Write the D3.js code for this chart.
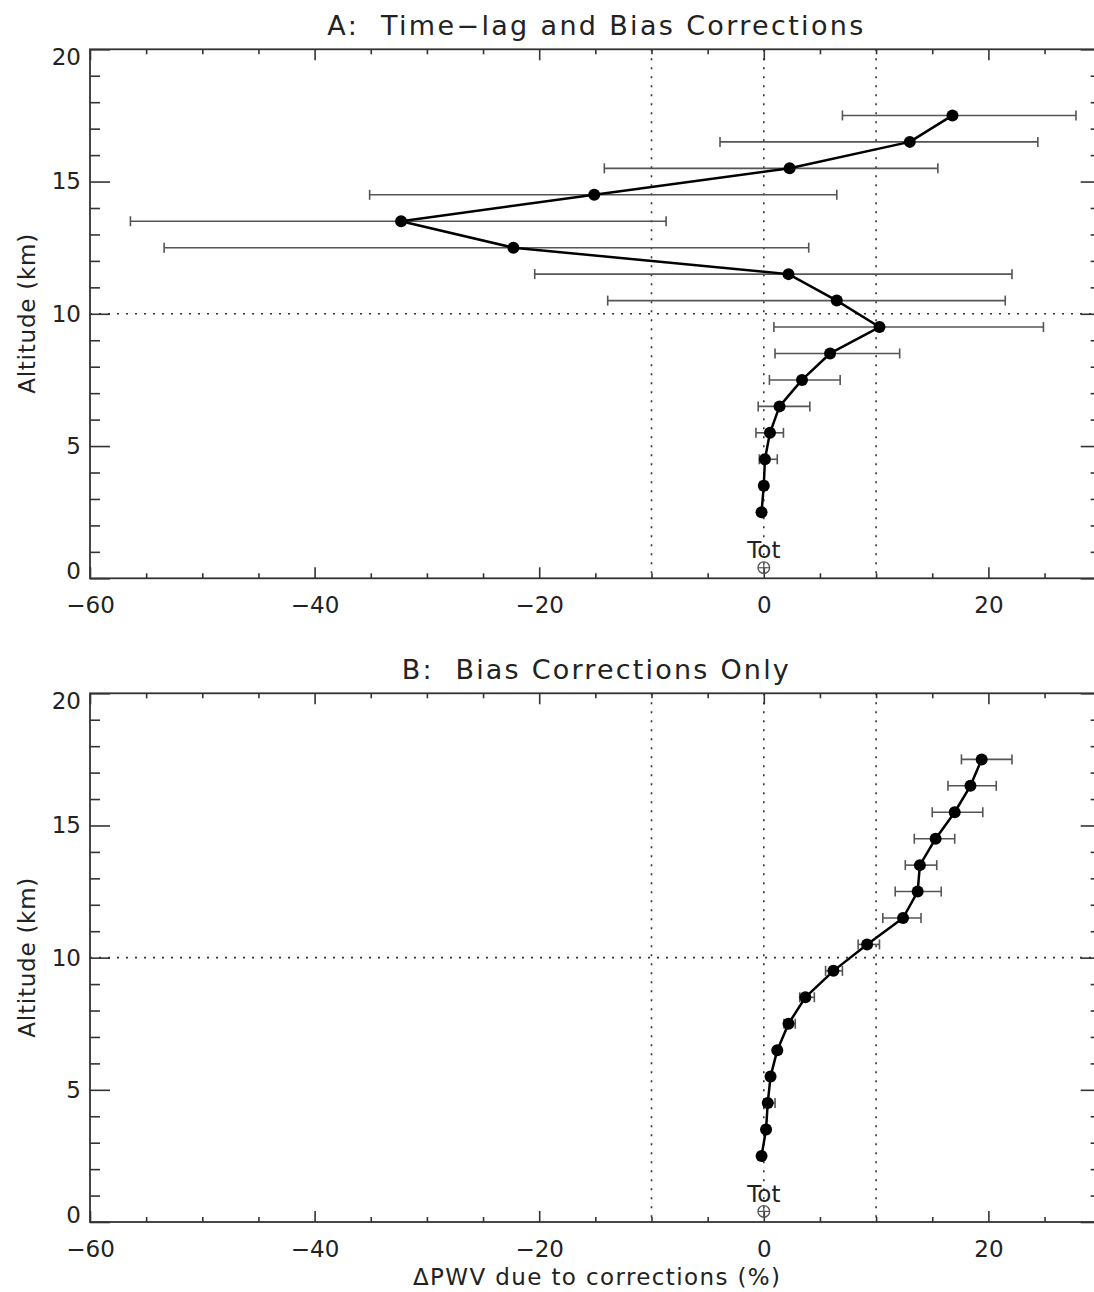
<!DOCTYPE html>
<html>
<head>
<meta charset="utf-8">
<script src="https://cdn.jsdelivr.net/npm/d3@7"></script>
<style>
  body { margin: 0; background: #fff; }
  svg { display: block; }
  text { font-family: "DejaVu Sans", sans-serif; fill: #222; white-space: pre; }
</style>
</head>
<body>
<svg id="chart" width="1094" height="1292"></svg>
<script>
// ---- data ----
const altitudes = [17.5, 16.5, 15.5, 14.5, 13.5, 12.5, 11.5, 10.5, 9.5, 8.5, 7.5, 6.5, 5.5, 4.5, 3.5, 2.5];

const valuesA = [16.8, 13.0, 2.3, -15.1, -32.3, -22.3, 2.2, 6.5, 10.3, 5.9, 3.4, 1.4, 0.55, 0.1, 0.0, -0.2];
const lowerA  = [7.0, -3.9, -14.2, -35.1, -56.4, -53.4, -20.4, -13.9, 0.9, 1.0, 0.5, -0.5, -0.7, -0.4, -0.3, -0.3];
const upperA  = [27.8, 24.4, 15.5, 6.5, -8.7, 4.0, 22.1, 21.5, 24.9, 12.1, 6.8, 4.1, 1.75, 1.2, 0.3, -0.1];

const valuesB = [19.4, 18.4, 17.0, 15.3, 13.9, 13.7, 12.4, 9.2, 6.2, 3.7, 2.2, 1.2, 0.6, 0.35, 0.2, -0.2];
const lowerB  = [17.6, 16.4, 15.0, 13.4, 12.6, 11.7, 10.6, 8.4, 5.5, 3.2, 1.8, 1.0, 0.35, 0.0, 0.0, -0.3];
const upperB  = [22.1, 20.7, 19.5, 17.0, 15.4, 15.8, 14.0, 10.3, 7.0, 4.5, 2.8, 1.5, 0.85, 1.0, 0.45, -0.1];

const totValue = 0.0;
const totAltitude = 0.4;
const totLabel = "Tot";

const xDomain = [-60, 30];
const yDomain = [0, 20];
const xMajorTicks = [-60, -40, -20, 0, 20];
const xMinorTicks = [-55, -50, -45, -35, -30, -25, -15, -10, -5, 5, 10, 15, 25, 30];
const yMajorTicks = [0, 5, 10, 15, 20];
const yMinorTicks = [1, 2, 3, 4, 6, 7, 8, 9, 11, 12, 13, 14, 16, 17, 18, 19];
const refVerticals = [-10, 0, 10];
const refHorizontals = [10];

const titleA = "A:  Time\u2212lag and Bias Corrections";
const titleB = "B:  Bias Corrections Only";
const yTitle = "Altitude (km)";
const xTitle = "\u0394PWV due to corrections (%)";

// ---- drawing ----
const svg = d3.select("#chart");
svg.append("rect").attr("width", 1094).attr("height", 1292).attr("fill", "#fff");

const left = 90, right = 1100.7;
const x = d3.scaleLinear().domain(xDomain).range([left, right]);
const fmt = d => d < 0 ? "\u2212" + Math.abs(d) : String(d);

function panel(top, bottom, title, titleLen, vals, lo, hi, showXTitle) {
  const y = d3.scaleLinear().domain(yDomain).range([bottom, top]);
  const g = svg.append("g");

  // reference dotted lines
  refVerticals.forEach(v => {
    g.append("line").attr("x1", x(v)).attr("x2", x(v)).attr("y1", top).attr("y2", bottom)
      .attr("stroke", "#333").attr("stroke-width", 1.6).attr("stroke-dasharray", "2,7");
  });
  refHorizontals.forEach(h => {
    g.append("line").attr("x1", left).attr("x2", right).attr("y1", y(h)).attr("y2", y(h))
      .attr("stroke", "#333").attr("stroke-width", 1.6).attr("stroke-dasharray", "2,7");
  });

  // axes
  const axStyle = sel => {
    sel.select(".domain").remove();
    sel.selectAll(".tick line").attr("stroke", "#333").attr("stroke-width", 1.6);
    sel.selectAll("text").attr("font-family", "DejaVu Sans, sans-serif").attr("font-size", 23).attr("fill", "#333");
  };
  g.append("g").attr("transform", `translate(0,${bottom})`)
    .call(d3.axisBottom(x).tickValues(xMajorTicks).tickSize(-11).tickPadding(18.7).tickFormat(fmt)).call(axStyle);
  g.append("g").attr("transform", `translate(0,${bottom})`)
    .call(d3.axisBottom(x).tickValues(xMinorTicks).tickSize(-5).tickFormat("")).call(axStyle);
  g.append("g").attr("transform", `translate(0,${top})`)
    .call(d3.axisTop(x).tickValues(xMajorTicks).tickSize(-11).tickFormat("")).call(axStyle);
  g.append("g").attr("transform", `translate(0,${top})`)
    .call(d3.axisTop(x).tickValues(xMinorTicks).tickSize(-5).tickFormat("")).call(axStyle);

  const yl = g.append("g").attr("transform", `translate(${left},0)`)
    .call(d3.axisLeft(y).tickValues(yMajorTicks).tickSize(-20).tickPadding(9).tickFormat(d3.format("d"))).call(axStyle);
  yl.selectAll(".tick").filter(d => d === yDomain[0]).select("text").attr("dy", "0.0em");
  yl.selectAll(".tick").filter(d => d === yDomain[1]).select("text").attr("dy", "0.68em");
  g.append("g").attr("transform", `translate(${left},0)`)
    .call(d3.axisLeft(y).tickValues(yMinorTicks).tickSize(-10).tickFormat("")).call(axStyle);
  g.append("g").attr("transform", `translate(${right},0)`)
    .call(d3.axisRight(y).tickValues(yMajorTicks).tickSize(-20).tickFormat("")).call(axStyle);
  g.append("g").attr("transform", `translate(${right},0)`)
    .call(d3.axisRight(y).tickValues(yMinorTicks).tickSize(-10).tickFormat("")).call(axStyle);

  // frame
  g.append("rect").attr("x", left).attr("y", top).attr("width", right - left).attr("height", bottom - top)
    .attr("fill", "none").attr("stroke", "#333").attr("stroke-width", 1.8);

  // title
  g.append("text").attr("x", (left + right) / 2).attr("y", top - 14)
    .attr("text-anchor", "middle").attr("font-size", 27)
    .attr("textLength", titleLen).attr("lengthAdjust", "spacing").text(title);

  // y title
  g.append("text").attr("transform", `translate(35,${(top + bottom) / 2}) rotate(-90)`)
    .attr("text-anchor", "middle").attr("font-size", 23)
    .attr("textLength", 160).attr("lengthAdjust", "spacing").text(yTitle);

  // error bars
  const rows = altitudes.map((a, i) => ({ a, v: vals[i], lo: lo[i], hi: hi[i] }));
  const eb = g.append("g").attr("stroke", "#555").attr("stroke-width", 1.6).attr("fill", "none");
  rows.forEach(r => {
    eb.append("line").attr("x1", x(r.lo)).attr("x2", x(r.hi)).attr("y1", y(r.a)).attr("y2", y(r.a));
    eb.append("line").attr("x1", x(r.lo)).attr("x2", x(r.lo)).attr("y1", y(r.a) - 5).attr("y2", y(r.a) + 5);
    eb.append("line").attr("x1", x(r.hi)).attr("x2", x(r.hi)).attr("y1", y(r.a) - 5).attr("y2", y(r.a) + 5);
  });

  // profile line
  const line = d3.line().x(d => x(d.v)).y(d => y(d.a));
  g.append("path").datum(rows).attr("d", line).attr("fill", "none")
    .attr("stroke", "#000").attr("stroke-width", 2.5).attr("stroke-linejoin", "round");

  // points
  g.selectAll(null).data(rows).enter().append("circle")
    .attr("cx", d => x(d.v)).attr("cy", d => y(d.a)).attr("r", 6).attr("fill", "#000");

  // Tot symbol
  const tx = x(totValue), ty = y(totAltitude);
  g.append("circle").attr("cx", tx).attr("cy", ty).attr("r", 5.8)
    .attr("fill", "none").attr("stroke", "#555").attr("stroke-width", 1.4);
  g.append("line").attr("x1", tx - 5.5).attr("x2", tx + 5.5).attr("y1", ty).attr("y2", ty)
    .attr("stroke", "#555").attr("stroke-width", 1.2);
  g.append("line").attr("x1", tx).attr("x2", tx).attr("y1", ty - 5.5).attr("y2", ty + 5.5)
    .attr("stroke", "#555").attr("stroke-width", 1.2);
  g.append("text").attr("x", tx).attr("y", bottom - 20).attr("text-anchor", "middle")
    .attr("font-size", 23).text(totLabel);

  if (showXTitle) {
    g.append("text").attr("x", 596.5).attr("y", bottom + 63).attr("text-anchor", "middle")
      .attr("font-size", 23).attr("textLength", 367).attr("lengthAdjust", "spacing").text(xTitle);
  }
}

panel(49.3, 578.3, titleA, 536, valuesA, lowerA, upperA, false);
panel(693.3, 1222, titleB, 387, valuesB, lowerB, upperB, true);
</script>
</body>
</html>
